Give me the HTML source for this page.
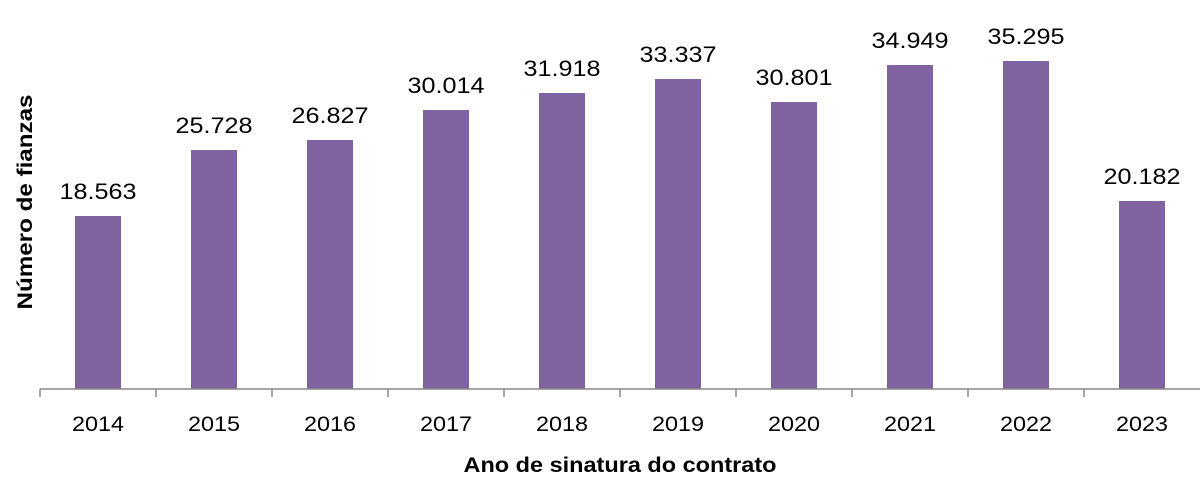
<!DOCTYPE html><html><head><style>body{margin:0;background:#fff}</style></head><body>
<svg width="1200" height="483" xmlns="http://www.w3.org/2000/svg" font-family="Liberation Sans, sans-serif">
<rect width="1200" height="483" fill="#fff"/>
<g fill="#8064a2">
<rect x="75" y="216" width="46" height="173"/>
<rect x="191" y="150" width="46" height="239"/>
<rect x="307" y="140" width="46" height="249"/>
<rect x="423" y="110" width="46" height="279"/>
<rect x="539" y="93" width="46" height="296"/>
<rect x="655" y="79" width="46" height="310"/>
<rect x="771" y="102" width="46" height="287"/>
<rect x="887" y="65" width="46" height="324"/>
<rect x="1003" y="61" width="46" height="328"/>
<rect x="1119" y="201" width="46" height="188"/>
</g>
<g stroke="#888" stroke-width="1.5">
<line x1="40" y1="389" x2="1200" y2="389"/>
<line x1="40" y1="389" x2="40" y2="397"/><line x1="156" y1="389" x2="156" y2="397"/><line x1="272" y1="389" x2="272" y2="397"/><line x1="388" y1="389" x2="388" y2="397"/><line x1="504" y1="389" x2="504" y2="397"/><line x1="620" y1="389" x2="620" y2="397"/><line x1="736" y1="389" x2="736" y2="397"/><line x1="852" y1="389" x2="852" y2="397"/><line x1="968" y1="389" x2="968" y2="397"/><line x1="1084" y1="389" x2="1084" y2="397"/>
</g>
<g font-size="22" text-anchor="middle" fill="#000" lengthAdjust="spacingAndGlyphs">
<g>
<text x="98" y="199" textLength="77" lengthAdjust="spacingAndGlyphs">18.563</text><text x="214" y="133" textLength="77" lengthAdjust="spacingAndGlyphs">25.728</text><text x="330" y="123" textLength="77" lengthAdjust="spacingAndGlyphs">26.827</text><text x="446" y="93" textLength="77" lengthAdjust="spacingAndGlyphs">30.014</text><text x="562" y="76" textLength="77" lengthAdjust="spacingAndGlyphs">31.918</text><text x="678" y="62" textLength="77" lengthAdjust="spacingAndGlyphs">33.337</text><text x="794" y="85" textLength="77" lengthAdjust="spacingAndGlyphs">30.801</text><text x="910" y="48" textLength="77" lengthAdjust="spacingAndGlyphs">34.949</text><text x="1026" y="44" textLength="77" lengthAdjust="spacingAndGlyphs">35.295</text><text x="1142" y="184" textLength="77" lengthAdjust="spacingAndGlyphs">20.182</text>
</g>
<g font-size="21">
<text x="98" y="431" textLength="52" lengthAdjust="spacingAndGlyphs">2014</text><text x="214" y="431" textLength="52" lengthAdjust="spacingAndGlyphs">2015</text><text x="330" y="431" textLength="52" lengthAdjust="spacingAndGlyphs">2016</text><text x="446" y="431" textLength="52" lengthAdjust="spacingAndGlyphs">2017</text><text x="562" y="431" textLength="52" lengthAdjust="spacingAndGlyphs">2018</text><text x="678" y="431" textLength="52" lengthAdjust="spacingAndGlyphs">2019</text><text x="794" y="431" textLength="52" lengthAdjust="spacingAndGlyphs">2020</text><text x="910" y="431" textLength="52" lengthAdjust="spacingAndGlyphs">2021</text><text x="1026" y="431" textLength="52" lengthAdjust="spacingAndGlyphs">2022</text><text x="1142" y="431" textLength="52" lengthAdjust="spacingAndGlyphs">2023</text>
</g>
<text x="620" y="472" font-weight="bold" font-size="21" textLength="313" lengthAdjust="spacingAndGlyphs">Ano de sinatura do contrato</text>
<text transform="translate(32,202) rotate(-90)" font-weight="bold" font-size="21" textLength="215" lengthAdjust="spacingAndGlyphs">Número de  fianzas</text>
</g>
</svg>
</body></html>
